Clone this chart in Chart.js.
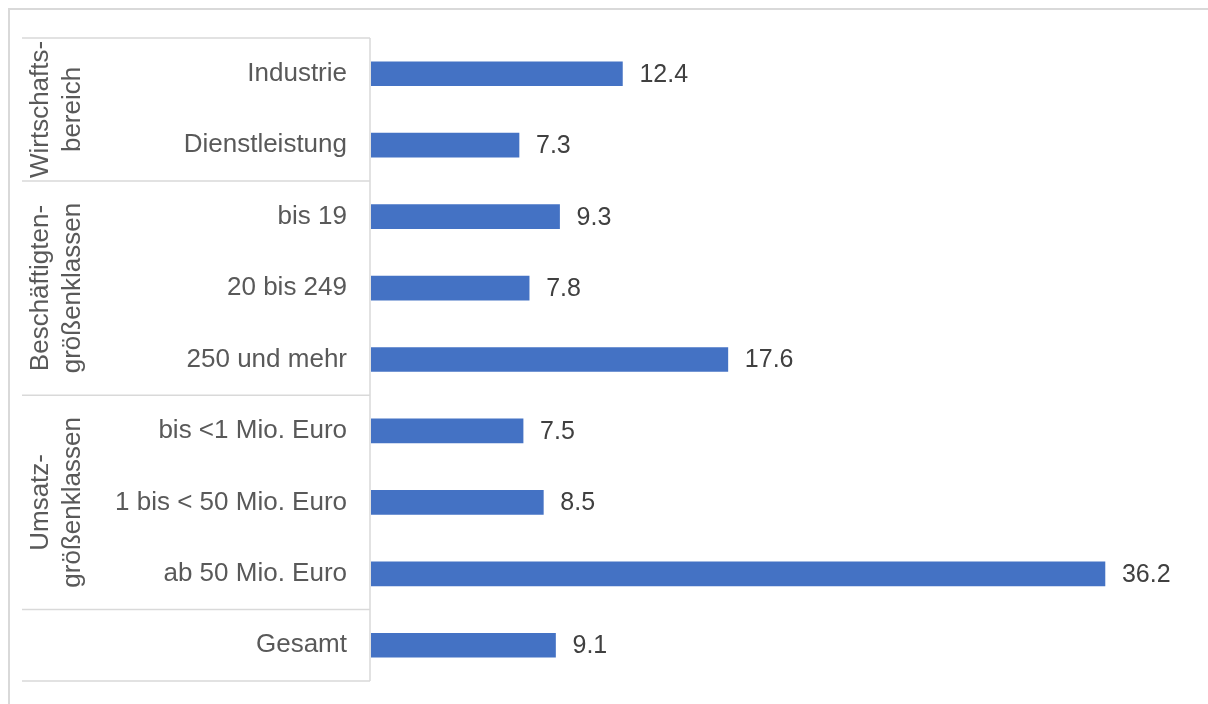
<!DOCTYPE html>
<html>
<head>
<meta charset="utf-8">
<script src="https://cdn.jsdelivr.net/npm/chart.js@4"></script>
<style>
  html, body { margin: 0; padding: 0; background: #fff; overflow: hidden; }
  canvas { display: block; }
</style>
</head>
<body>
<canvas id="c" width="1208" height="704"></canvas>
<script>
const categories = ['Industrie', 'Dienstleistung', 'bis 19', '20 bis 249', '250 und mehr',
  'bis <1 Mio. Euro', '1 bis < 50 Mio. Euro', 'ab 50 Mio. Euro', 'Gesamt'];
const values = [12.4, 7.3, 9.3, 7.8, 17.6, 7.5, 8.5, 36.2, 9.1];
const groupLabels = [['Wirtschafts-', 'bereich'], ['Beschäftigten-', 'größenklassen'], ['Umsatz-', 'größenklassen'], []];
const groupStarts = [0, 2, 5, 8];
const groupEnds = [1, 4, 7, 8];

const FONT = "'Liberation Sans', Arial, sans-serif";
const LINE = '#d9d9d9';

const tablePlugin = {
  id: 'table',
  beforeDraw(chart) {
    const ctx = chart.ctx;
    ctx.save();
    ctx.fillStyle = '#fff';
    ctx.fillRect(0, 0, chart.width, chart.height);
    ctx.strokeStyle = LINE;
    ctx.lineWidth = 2;
    ctx.beginPath();
    ctx.moveTo(9, chart.height);
    ctx.lineTo(9, 9);
    ctx.lineTo(chart.width, 9);
    ctx.stroke();
    ctx.restore();
  },
  afterDraw(chart) {
    const ctx = chart.ctx;
    const y = chart.scales.y;
    const area = chart.chartArea;
    const left = 22;
    const axisX = area.left - 1;
    ctx.save();
    ctx.strokeStyle = LINE;
    ctx.lineWidth = 1.5;
    const bounds = (i, j) => {
      const top = i === 0 ? area.top : (y.getPixelForValue(i - 1) + y.getPixelForValue(i)) / 2;
      const bot = j === categories.length - 1 ? area.bottom : (y.getPixelForValue(j) + y.getPixelForValue(j + 1)) / 2;
      return [top, bot];
    };
    ctx.beginPath();
    ctx.moveTo(left, area.top); ctx.lineTo(axisX, area.top);
    groupStarts.forEach((s, g) => {
      const [t, b] = bounds(s, groupEnds[g]);
      ctx.moveTo(left, b); ctx.lineTo(axisX, b);
    });
    ctx.moveTo(axisX, area.top); ctx.lineTo(axisX, area.bottom);
    ctx.stroke();

    ctx.fillStyle = '#595959';
    ctx.font = '26px ' + FONT;
    ctx.textAlign = 'center';
    ctx.textBaseline = 'alphabetic';
    const baseX = [48, 80];
    groupStarts.forEach((s, g) => {
      const [t, b] = bounds(s, groupEnds[g]);
      const cy = (t + b) / 2;
      groupLabels[g].forEach((txt, k) => {
        ctx.save();
        ctx.translate(baseX[k], cy);
        ctx.rotate(-Math.PI / 2);
        ctx.fillText(txt, 0, 0);
        ctx.restore();
      });
    });

    // value labels
    const meta = chart.getDatasetMeta(0);
    ctx.fillStyle = '#404040';
    ctx.font = '25px ' + FONT;
    ctx.textAlign = 'left';
    ctx.textBaseline = 'middle';
    meta.data.forEach((bar, i) => {
      ctx.fillText(values[i].toFixed(1), bar.x + 17, bar.y + 1);
    });
    ctx.restore();
  }
};

new Chart(document.getElementById('c'), {
  type: 'bar',
  data: {
    labels: categories,
    datasets: [{
      data: values,
      backgroundColor: '#4472C4',
      barThickness: 24,
      borderWidth: 0
    }]
  },
  options: {
    indexAxis: 'y',
    responsive: false,
    animation: false,
    events: [],
    layout: { padding: { left: 0, top: 38, bottom: 23, right: 26 } },
    plugins: { legend: { display: false }, tooltip: { enabled: false } },
    scales: {
      x: { display: false, min: 0, max: 40 },
      y: {
        afterFit(scale) { scale.width = 371; scale.paddingTop = 0; scale.paddingBottom = 0; },
        grid: { display: false, drawTicks: false },
        border: { display: false },
        ticks: {
          padding: 24,
          color: '#595959',
          font: { family: FONT, size: 26 }
        }
      }
    }
  },
  plugins: [tablePlugin]
});
</script>
</body>
</html>
